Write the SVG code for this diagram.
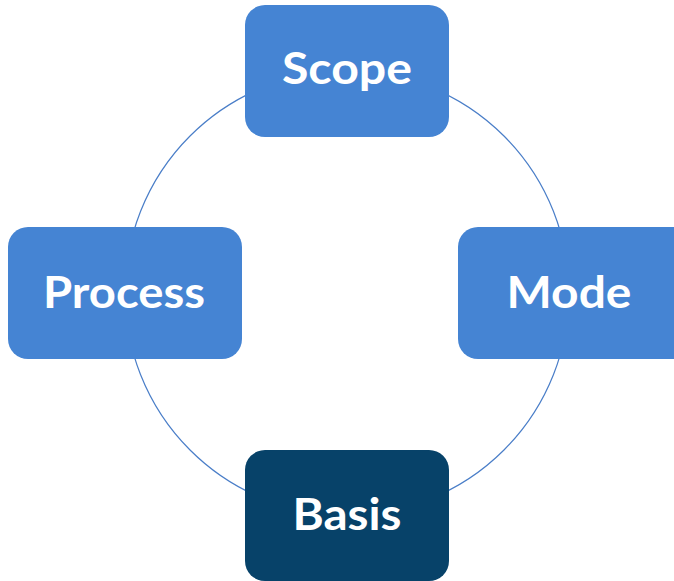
<svg xmlns="http://www.w3.org/2000/svg" width="674" height="581" viewBox="0 0 674 581">
<style>
.box{fill:#4584D3;}
.dark{fill:#074269;}
.lbl{fill:#FFFFFF;font-family:Lato,"Open Sans",sans-serif;font-weight:bold;font-size:44px;text-anchor:middle;}
.ring{fill:none;stroke:#4A7EC8;stroke-width:1.2;}
</style>
<rect width="674" height="581" fill="#FFFFFF"/>
<g id="connectors">
<circle class="ring" cx="347" cy="293" r="222"/>
</g>
<g id="scope">
<rect class="box" x="245" y="5" width="204" height="132" rx="20"/>
<text class="lbl" x="347" y="84" textLength="130" lengthAdjust="spacingAndGlyphs">Scope</text>
</g>
<g id="process">
<rect class="box" x="8" y="227" width="234" height="132" rx="20"/>
<text class="lbl" x="124" y="308" textLength="162" lengthAdjust="spacingAndGlyphs">Process</text>
</g>
<g id="mode">
<rect class="box" x="458" y="227" width="236" height="132" rx="20"/>
<text class="lbl" x="569" y="308" textLength="125" lengthAdjust="spacingAndGlyphs">Mode</text>
</g>
<g id="basis">
<rect class="dark" x="245" y="450" width="204" height="131" rx="20"/>
<text class="lbl" x="347" y="530" textLength="109" lengthAdjust="spacingAndGlyphs">Basis</text>
</g>
</svg>
